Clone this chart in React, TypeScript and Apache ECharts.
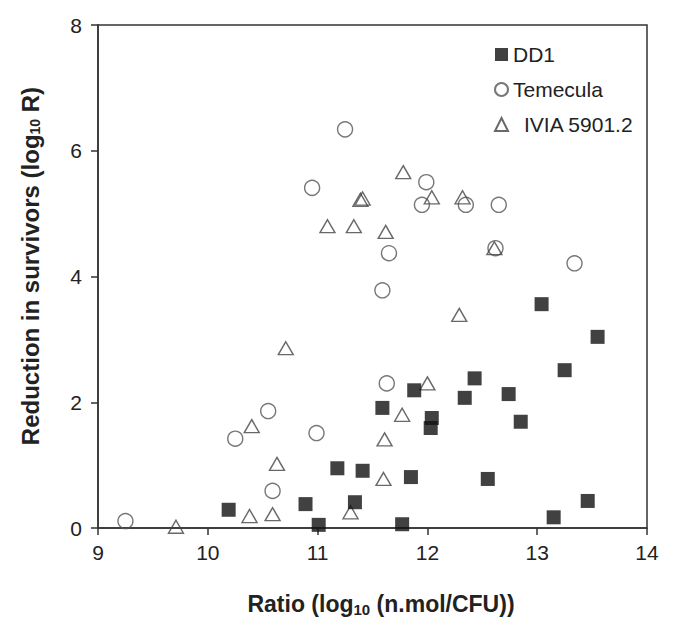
import React, { useEffect, useRef } from "react";
import * as echarts from "echarts";

const seriesNames = ["DD1", "Temecula", "IVIA 5901.2"];

const dd1X = [10.19, 10.89, 11.01, 11.18, 11.41, 11.34, 11.59, 13.04, 13.55, 13.25, 12.43, 11.88, 12.34, 12.74, 12.85, 12.04, 12.03, 11.85, 12.55, 13.46, 13.15, 11.77];
const dd1Y = [0.29, 0.38, 0.05, 0.95, 0.91, 0.41, 1.91, 3.56, 3.04, 2.51, 2.38, 2.19, 2.07, 2.13, 1.69, 1.75, 1.59, 0.81, 0.78, 0.43, 0.17, 0.06];

const temX = [11.25, 10.95, 11.65, 11.59, 11.99, 11.95, 12.35, 12.65, 12.62, 13.34, 11.63, 10.55, 10.25, 10.99, 10.59, 9.25];
const temY = [6.34, 5.41, 4.37, 3.78, 5.5, 5.14, 5.14, 5.14, 4.45, 4.21, 2.3, 1.86, 1.42, 1.51, 0.59, 0.11];

const iviaX = [11.39, 11.41, 11.09, 11.33, 11.62, 11.78, 12.04, 12.32, 12.61, 10.71, 10.4, 10.63, 10.38, 10.59, 9.71, 11.3, 11.61, 11.6, 12.29, 12.0, 11.77];
const iviaY = [5.22, 5.24, 4.8, 4.8, 4.71, 5.66, 5.26, 5.26, 4.45, 2.86, 1.62, 1.02, 0.19, 0.22, 0.02, 0.25, 1.41, 0.78, 3.39, 2.3, 1.8];

const xMin = 9, xMax = 14, xStep = 1;
const yMin = 0, yMax = 8, yStep = 2;

const zip = (xs: number[], ys: number[]) => xs.map((x, i) => [x, ys[i]]);

export default function App() {
  const ref = useRef<HTMLDivElement>(null);
  useEffect(() => {
    if (!ref.current) return;
    const chart = echarts.init(ref.current, null, { renderer: "svg" });
    const font = "Liberation Sans, Arial, sans-serif";
    const axisColor = "#333";
    const titleRich = (size: number, sub: number) => ({
      b: { fontSize: size, fontWeight: "bold", fontFamily: font, fill: "#222", lineHeight: 28 },
      s: { fontSize: sub, fontWeight: "bold", fontFamily: font, fill: "#222", lineHeight: 28, padding: [10, 0, 0, 0] },
    });
    chart.setOption({
      animation: false,
      backgroundColor: "#fff",
      textStyle: { fontFamily: font },
      grid: {
        left: 98, right: 29, top: 25, bottom: 91,
        show: true, borderColor: axisColor, borderWidth: 1.5, backgroundColor: "transparent",
      },
      xAxis: {
        type: "value", min: xMin, max: xMax, interval: xStep,
        axisLine: { show: true, lineStyle: { color: axisColor, width: 1.5 } },
        axisTick: { show: true, inside: false, length: 7, lineStyle: { color: axisColor, width: 1.5 } },
        axisLabel: { color: "#222", fontSize: 21, margin: 14, fontFamily: font },
        splitLine: { show: false },
      },
      yAxis: {
        type: "value", min: yMin, max: yMax, interval: yStep,
        axisLine: { show: true, lineStyle: { color: axisColor, width: 1.5 } },
        axisTick: { show: true, inside: false, length: 7, lineStyle: { color: axisColor, width: 1.5 } },
        axisLabel: { color: "#222", fontSize: 21, margin: 16, fontFamily: font },
        splitLine: { show: false },
      },
      legend: {
        orient: "vertical", left: 489, top: 39, itemWidth: 13, itemHeight: 13, itemGap: 14,
        data: seriesNames,
        textStyle: {
          color: "#222", fontSize: 21, fontFamily: font,
          rich: { gap: { width: 11 }, t: { fontSize: 21, fontFamily: font, color: "#222" } },
        },
        formatter: (n: string) => (n === "IVIA 5901.2" ? "{gap|}{t|" + n + "}" : n),
      },
      graphic: [
        {
          type: "text", x: 381, y: 604,
          style: {
            text: "{b|Ratio (log}{s|10}{b| (n.mol/CFU))}",
            align: "center", verticalAlign: "middle",
            rich: titleRich(23, 15),
          },
        },
        {
          type: "text", x: 30, y: 266, rotation: Math.PI / 2,
          style: {
            text: "{b|Reduction in survivors (log}{s|10}{b| R)}",
            align: "center", verticalAlign: "middle",
            rich: titleRich(24, 14),
          },
        },
      ],
      series: [
        {
          name: seriesNames[1], type: "scatter", symbol: "circle", symbolSize: 15,
          data: zip(temX, temY),
          itemStyle: { color: "rgba(255,255,255,0)", borderColor: "#555", borderWidth: 1.4 },
        },
        {
          name: seriesNames[2], type: "scatter", symbol: "triangle", symbolSize: [15, 13],
          data: zip(iviaX, iviaY),
          itemStyle: { color: "rgba(255,255,255,0)", borderColor: "#444", borderWidth: 1.4 },
        },
        {
          name: seriesNames[0], type: "scatter", symbol: "rect", symbolSize: 14,
          data: zip(dd1X, dd1Y),
          itemStyle: { color: "#111" },
        },
      ],
    });
    return () => chart.dispose();
  }, []);
  return <div ref={ref} style={{ width: 676, height: 619, position: "absolute", left: 0, top: 0 }} />;
}
